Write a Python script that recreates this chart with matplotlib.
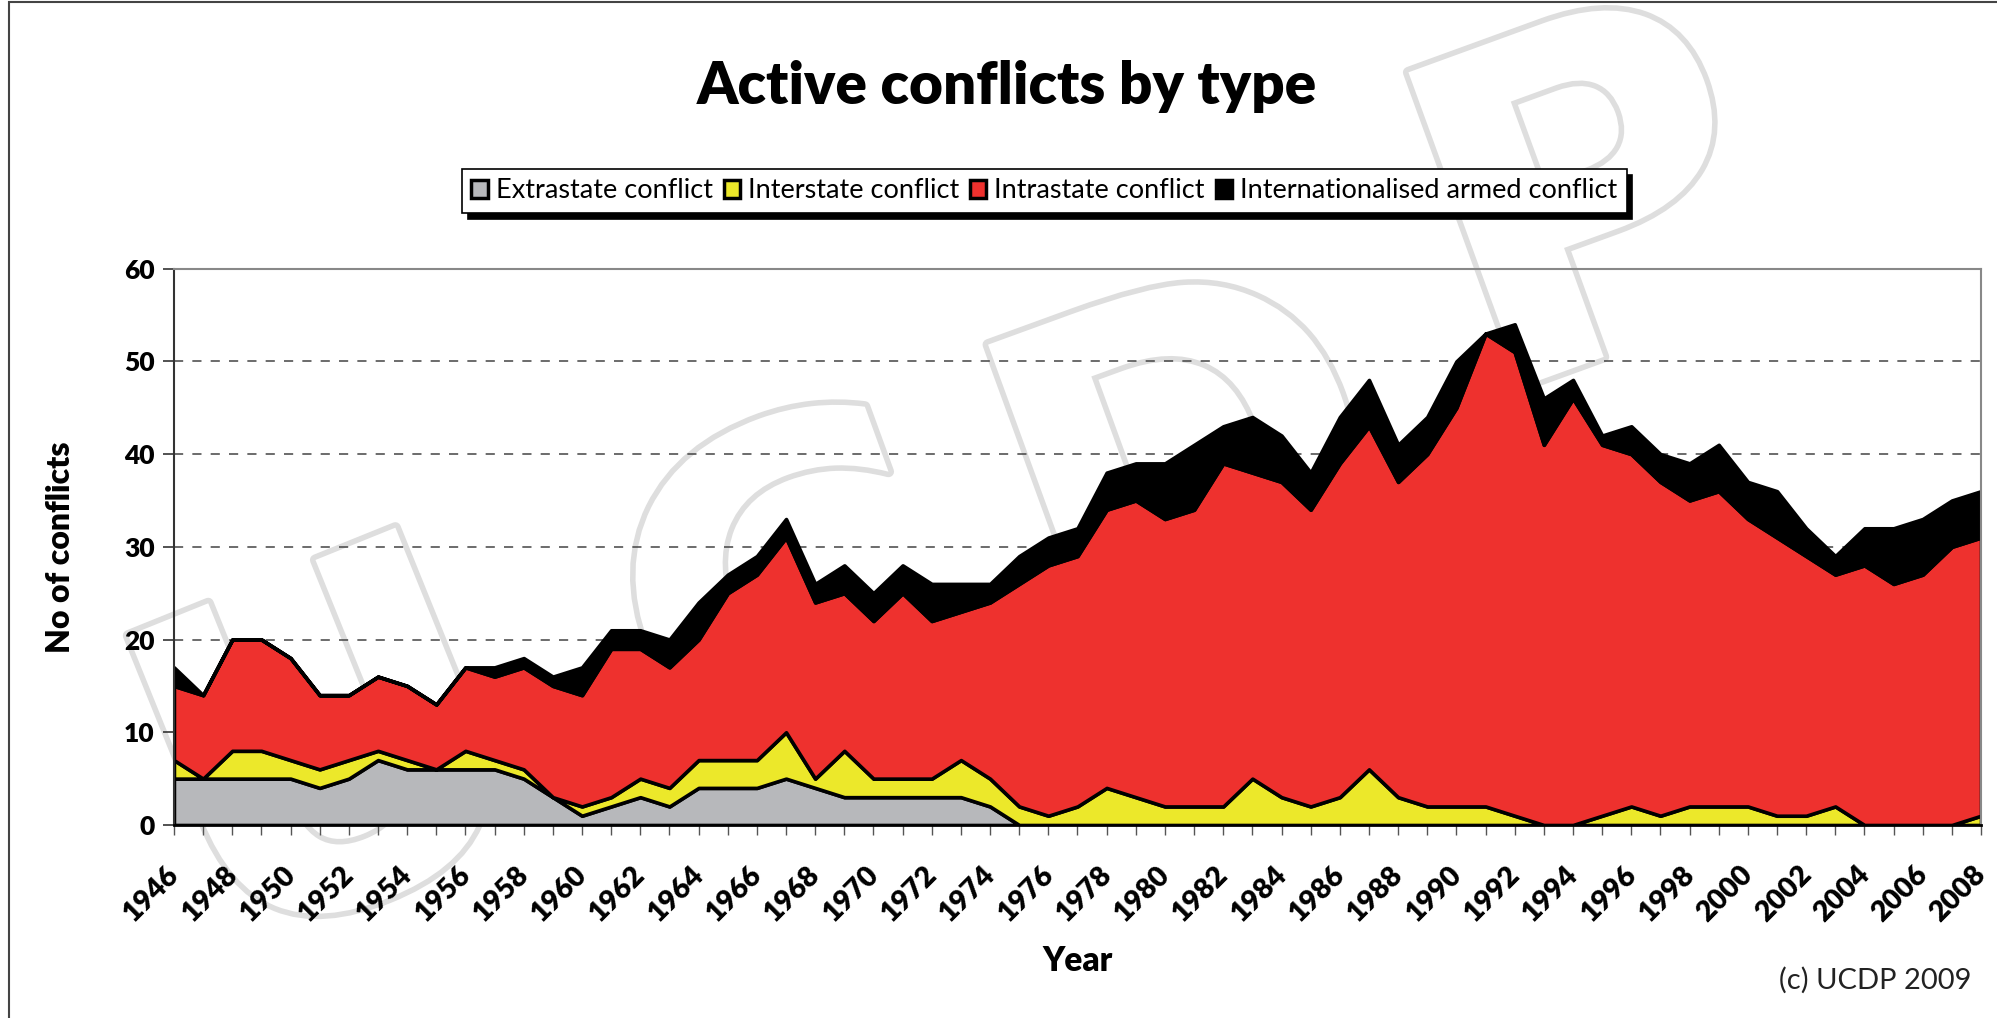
import numpy as np
import matplotlib.pyplot as plt
import matplotlib.patheffects as pe
from matplotlib.patches import Patch, Rectangle
from matplotlib.transforms import ScaledTranslation

plt.rcParams['font.family'] = ['Lato', 'DejaVu Sans']

# data, 1946-2008
years = list(range(1946, 2009))
extrastate = [5, 5, 5, 5, 5, 4, 5, 7, 6, 6,
              6, 6, 5, 3, 1, 2, 3, 2, 4, 4,
              4, 5, 4, 3, 3, 3, 3, 3, 2, 0,
              0, 0, 0, 0, 0, 0, 0, 0, 0, 0,
              0, 0, 0, 0, 0, 0, 0, 0, 0, 0,
              0, 0, 0, 0, 0, 0, 0, 0, 0, 0,
              0, 0, 0]
interstate = [2, 0, 3, 3, 2, 2, 2, 1, 1, 0,
              2, 1, 1, 0, 1, 1, 2, 2, 3, 3,
              3, 5, 1, 5, 2, 2, 2, 4, 3, 2,
              1, 2, 4, 3, 2, 2, 2, 5, 3, 2,
              3, 6, 3, 2, 2, 2, 1, 0, 0, 1,
              2, 1, 2, 2, 2, 1, 1, 2, 0, 0,
              0, 0, 1]
intrastate = [8, 9, 12, 12, 11, 8, 7, 8, 8, 7,
              9, 9, 11, 12, 12, 16, 14, 13, 13, 18,
              20, 21, 19, 17, 17, 20, 17, 16, 19, 24,
              27, 27, 30, 32, 31, 32, 37, 33, 34, 32,
              36, 37, 34, 38, 43, 51, 50, 41, 46, 40,
              38, 36, 33, 34, 31, 30, 28, 25, 28, 26,
              27, 30, 30]
internationalised = [2, 0, 0, 0, 0, 0, 0, 0, 0, 0,
                     0, 1, 1, 1, 3, 2, 2, 3, 4, 2,
                     2, 2, 2, 3, 3, 3, 4, 3, 2, 3,
                     3, 3, 4, 4, 6, 7, 4, 6, 5, 4,
                     5, 5, 4, 4, 5, 0, 3, 5, 2, 1,
                     3, 3, 4, 5, 4, 5, 3, 2, 4, 6,
                     6, 5, 5]

series_names = ['Extrastate conflict', 'Interstate conflict',
                'Intrastate conflict', 'Internationalised armed conflict']
colors = ['#b7b8bb', '#ece82a', '#ee312e', '#000000']
year_labels = [str(y) if (y - years[0]) % 2 == 0 else '' for y in years]

fig = plt.figure(figsize=(19.97, 10.18), dpi=100)
fig.patch.set_facecolor('white')

# faint UCDP watermark behind everything
for letter, x, y, rot in [('U', 0.17, 0.24, 22), ('C', 0.40, 0.38, 20),
                          ('D', 0.60, 0.52, 20), ('P', 0.80, 0.78, 20)]:
    fig.text(x, y, letter, fontsize=330, family='DejaVu Sans', weight='bold',
             color='white', rotation=rot, ha='center', va='center', zorder=-1,
             path_effects=[pe.withStroke(linewidth=8, foreground='#dedede')])

# chart area border
fig.add_artist(Rectangle((0.0045, -0.05), 1.2, 1.0485, transform=fig.transFigure,
                         fill=False, edgecolor='#444444', linewidth=1.5))

ax = fig.add_axes([0.0871, 0.1896, 0.9049, 0.5465])
ax.patch.set_facecolor('none')

ax.stackplot(years, extrastate, interstate, intrastate, internationalised,
             colors=colors, edgecolor='black', linewidth=2.6)

ax.set_xlim(years[0], years[-1])
ax.set_ylim(0, 60)
ax.set_yticks(range(0, 61, 10))
ax.set_xticks(years)
ax.set_xticklabels(year_labels, rotation=45, ha='right', va='top',
                   rotation_mode='anchor')

ax.set_axisbelow(True)
for v in range(10, 60, 10):
    ax.axhline(v, color='#444444', linewidth=1.1, linestyle=(0, (6, 6)), zorder=0)

for s in ['top', 'right']:
    ax.spines[s].set_color('#888888')
    ax.spines[s].set_linewidth(1.5)
ax.spines['left'].set_color('#333333')
ax.spines['left'].set_linewidth(1.5)
ax.spines['bottom'].set_color('black')
ax.spines['bottom'].set_linewidth(2)

ax.tick_params(axis='y', direction='out', length=8, width=1.2, color='#333333',
               pad=6, labelsize=19)
ax.tick_params(axis='x', direction='out', length=7, width=1, color='#555555',
               pad=19, labelsize=20.5)
# nudge the rotated year labels a little to the left
shift = ScaledTranslation(-6 / 72, 0, fig.dpi_scale_trans)
for lab in ax.get_xticklabels():
    lab.set_transform(lab.get_transform() + shift)
for lab in ax.get_xticklabels() + ax.get_yticklabels():
    lab.set_fontweight('heavy')

ax.set_ylabel('No of conflicts', fontsize=23, fontweight='heavy')
ax.yaxis.set_label_coords(-0.0545, 0.5)
ax.set_xlabel('Year', fontsize=24, fontweight='heavy')
ax.xaxis.set_label_coords(0.5, -0.215)

fig.text(0.504, 0.915, 'Active conflicts by type', ha='center', va='center',
         fontsize=42, fontweight='heavy')

handles = [Patch(facecolor=c, edgecolor='black', linewidth=2.5) for c in colors]
leg = fig.legend(handles, series_names, loc='center', bbox_to_anchor=(0.523, 0.8124),
                 ncol=4, fontsize=19.5, frameon=True, fancybox=False,
                 edgecolor='black', handlelength=0.6, handleheight=0.6,
                 handletextpad=0.3, columnspacing=0.4, borderpad=0.35,
                 shadow={'color': 'black', 'alpha': 1, 'ox': 4, 'oy': -4})
leg.get_frame().set_linewidth(1.2)

fig.text(0.987, 0.037, '(c) UCDP 2009', ha='right', va='center', fontsize=21,
         color='#222222')

fig.savefig('out.png', dpi=100, facecolor='white')
